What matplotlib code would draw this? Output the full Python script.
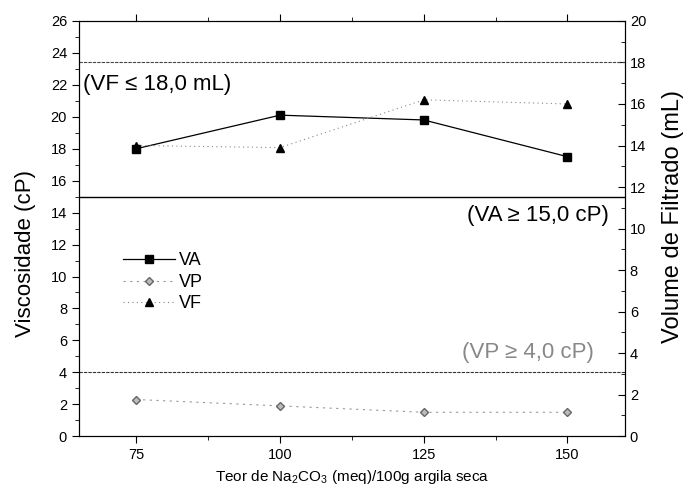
import numpy as np
import matplotlib.pyplot as plt
from matplotlib.ticker import MultipleLocator

plt.rcParams['font.family'] = ['Liberation Sans', 'DejaVu Sans']
plt.rcParams['mathtext.fontset'] = 'custom'
plt.rcParams['mathtext.rm'] = 'Liberation Sans'
plt.rcParams['mathtext.it'] = 'Liberation Sans:italic'

teor = [75, 100, 125, 150]
va = [18.0, 20.1, 19.8, 17.5]   # cP
vp = [2.3, 1.9, 1.5, 1.5]       # cP
vf = [14.0, 13.9, 16.2, 16.0]   # mL

va_lim = 15.0
vp_lim = 4.0
vf_lim = 18.0

fig = plt.figure(figsize=(6.86, 4.98), dpi=100)
ax = fig.add_axes([0.115, 0.124, 0.796, 0.834])
ax2 = ax.twinx()

l1, = ax.plot(teor, va, color='black', lw=0.9, marker='s', ms=6, label='VA')
l2, = ax.plot(teor, vp, color='#999999', lw=0.8, ls=(0, (2, 4)), marker='D', ms=4,
              mfc='#bbbbbb', mec='#666666', label='VP')
l3, = ax2.plot(teor, vf, color='#888888', lw=0.8, ls=(0, (1, 3)), marker='^', ms=6,
               mfc='black', mec='black', label='VF')

ax.axhline(va_lim, color='black', lw=1.0)
ax.axhline(vp_lim, color='#333333', lw=0.8, ls=(0, (3, 1)))
ax2.axhline(vf_lim, color='#444444', lw=0.8, ls=(0, (3, 1)))

ax.text(65.8, 22.0, '(VF \u2264 18,0 mL)', fontsize=16, va='center')
ax.text(157.2, 13.85, '(VA \u2265 15,0 cP)', fontsize=16, va='center', ha='right')
ax.text(154.6, 5.25, '(VP \u2265 4,0 cP)', fontsize=16, va='center', ha='right', color='#888888')

ax.set_xlim(65, 160)
ax.set_ylim(0, 26)
ax2.set_ylim(0, 20)
ax.set_xticks(teor)
ax.xaxis.set_minor_locator(MultipleLocator(12.5))
ax.yaxis.set_major_locator(MultipleLocator(2))
ax.yaxis.set_minor_locator(MultipleLocator(1))
ax2.yaxis.set_major_locator(MultipleLocator(2))
ax2.yaxis.set_minor_locator(MultipleLocator(1))

ax.tick_params(axis='both', which='major', labelsize=10.5, length=5, direction='out')
ax.tick_params(axis='both', which='minor', length=3, direction='out')
ax.tick_params(axis='x', top=True, which='both')
ax2.tick_params(axis='y', which='major', labelsize=10.5, length=5, direction='in')
ax2.tick_params(axis='y', which='minor', length=3, direction='in')

ax.set_xlabel('Teor de Na$_2$CO$_3$ (meq)/100g argila seca', fontsize=11)
ax.set_ylabel('Viscosidade (cP)', fontsize=16)
ax.yaxis.set_label_coords(-0.078, 0.44)
ax2.set_ylabel('Volume de Filtrado (mL)', fontsize=17)
ax2.yaxis.set_label_coords(1.068, 0.53)

ax.legend(handles=[l1, l2, l3], loc='upper left', bbox_to_anchor=(0.067, 0.46),
          frameon=False, fontsize=13, handlelength=2.9, handletextpad=0.2,
          labelspacing=0.25, borderaxespad=0)

fig.savefig('out.png', dpi=100)
